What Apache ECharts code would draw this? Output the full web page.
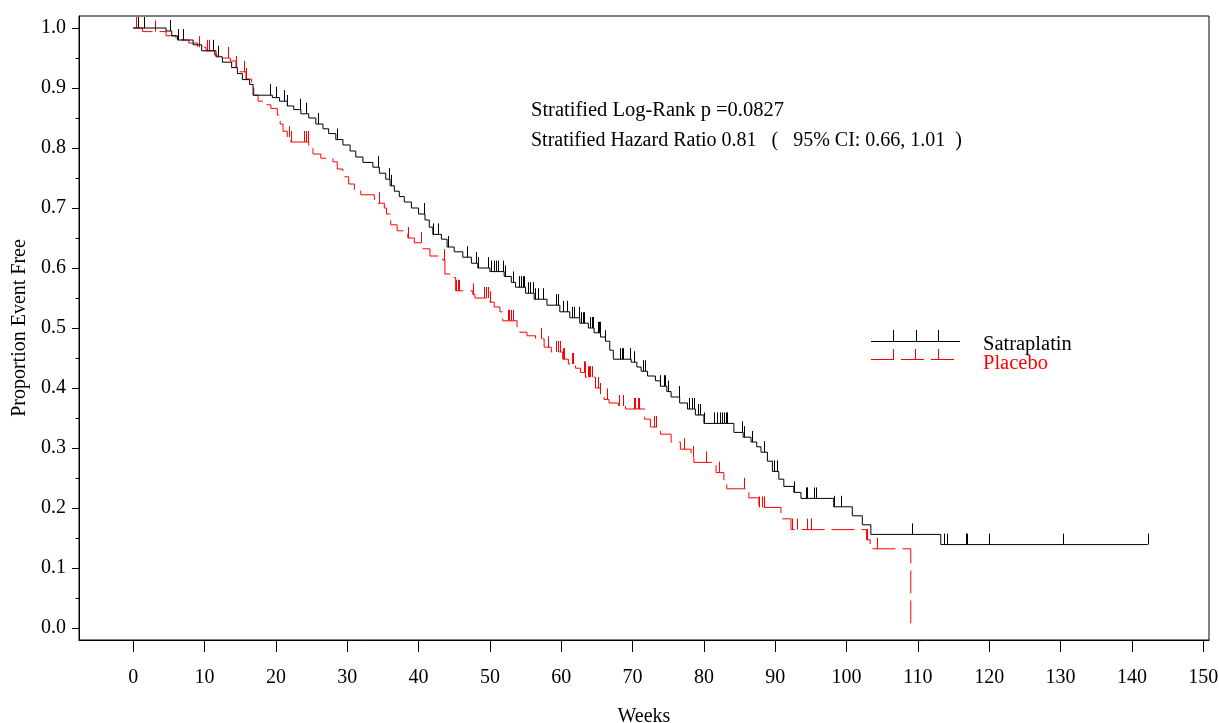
<!DOCTYPE html>
<html><head><meta charset="utf-8">
<script src="https://cdn.jsdelivr.net/npm/echarts@6/dist/echarts.min.js"></script>
<style>html,body{margin:0;padding:0;background:#fff}#c{width:1219px;height:723px}</style>
</head><body><div id="c"></div><script>
// ---- tick values ----
const xTickValues = [0,10,20,30,40,50,60,70,80,90,100,110,120,130,140,150];
const yTickValues = [0.0,0.1,0.2,0.3,0.4,0.5,0.6,0.7,0.8,0.9,1.0];
const yMinorTickValues = [0.05,0.15,0.25,0.35,0.45,0.55,0.65,0.75,0.85,0.95];

// ---- series names / texts ----
const seriesNames = ['Satraplatin', 'Placebo'];
const xTitle = 'Weeks';
const yTitle = 'Proportion Event Free';
const annotations = ['Stratified Log-Rank p =0.0827', 'Stratified Hazard Ratio 0.81   (   95% CI: 0.66, 1.01  )'];

// ---- Satraplatin KM steps (week, proportion after the step) ----
const satTimes = [0,4.6,5.4,6.2,8.4,9.6,11.6,12.5,13.8,14.6,15.3,16.3,16.8,19.5,20.5,21.6,22.5,23.5,24.6,25.6,26.6,27.4,28.4,29.4,30.4,31.2,32.2,33.6,34.5,35.4,36.0,36.6,37.3,38.0,39.0,40.0,40.9,41.5,42.0,43.2,44.0,45.0,46.2,47.4,48.3,50.0,52.0,53.0,53.6,55.0,56.2,58.0,59.8,61.2,62.6,63.8,64.6,65.5,66.2,66.8,67.3,69.8,70.6,71.2,72.1,73.2,73.9,74.8,75.4,76.6,77.7,78.8,80.0,84.2,85.5,86.6,87.4,88.0,88.9,89.6,90.5,91.2,92.6,93.6,98.2,100.8,102.2,103.4,113.2,142.2];
const satSurv  = [1.0,0.995,0.987,0.980,0.972,0.962,0.952,0.943,0.934,0.924,0.914,0.906,0.888,0.884,0.878,0.870,0.864,0.857,0.850,0.840,0.832,0.824,0.814,0.805,0.795,0.785,0.776,0.768,0.758,0.748,0.737,0.728,0.719,0.710,0.700,0.690,0.680,0.668,0.656,0.648,0.635,0.627,0.618,0.608,0.600,0.594,0.586,0.576,0.568,0.558,0.548,0.538,0.527,0.517,0.508,0.500,0.492,0.485,0.478,0.463,0.448,0.443,0.435,0.428,0.420,0.412,0.403,0.394,0.385,0.375,0.365,0.355,0.341,0.326,0.318,0.310,0.302,0.293,0.278,0.261,0.248,0.236,0.226,0.216,0.202,0.187,0.172,0.156,0.139,0.139];

// ---- Placebo KM steps ----
const plaTimes = [0,1.3,4.6,6.0,7.8,9.0,10.2,11.4,12.3,13.6,14.4,14.9,15.8,16.6,16.9,17.5,18.4,19.3,20.2,20.6,21.0,21.6,22.1,24.6,25.2,26.3,28.0,28.6,29.4,30.2,31.0,31.9,33.8,35.2,35.5,36.1,37.0,38.5,39.4,40.6,41.6,43.4,43.7,44.8,45.2,47.6,47.9,50.0,50.6,51.4,51.8,53.8,54.2,55.2,56.4,57.6,58.6,60.2,61.0,62.0,62.7,63.4,64.8,65.5,66.0,66.7,68.0,69.0,71.7,72.5,73.9,75.4,76.7,78.2,78.6,81.7,82.8,83.2,86.3,87.7,90.8,92.2,102.8,103.3,109.0];
const plaSurv  = [1.0,0.994,0.987,0.980,0.975,0.968,0.962,0.955,0.950,0.945,0.935,0.927,0.915,0.900,0.888,0.878,0.872,0.866,0.855,0.840,0.828,0.818,0.810,0.800,0.790,0.783,0.777,0.765,0.752,0.740,0.730,0.722,0.708,0.700,0.690,0.672,0.662,0.650,0.642,0.632,0.620,0.613,0.590,0.584,0.562,0.556,0.550,0.543,0.535,0.527,0.512,0.500,0.493,0.487,0.482,0.468,0.460,0.448,0.440,0.433,0.426,0.418,0.400,0.390,0.381,0.375,0.370,0.365,0.348,0.335,0.323,0.310,0.298,0.285,0.276,0.259,0.247,0.232,0.217,0.201,0.182,0.164,0.147,0.132,0.0];

// ---- censoring times ----
const satCensor = [0.7,1.5,5.2,6.3,7.0,11.2,11.9,19.2,20.0,21.1,21.6,23.4,24.2,25.9,28.6,34.3,35.9,36.1,40.8,42.0,42.7,44.1,46.8,48.0,48.3,49.7,50.1,50.6,50.8,51.1,51.8,52.1,53.2,54.1,54.3,54.6,54.8,55.3,55.6,56.0,56.3,56.7,57.4,59.2,59.5,60.2,60.8,61.5,61.8,62.5,62.7,63.0,63.2,64.0,64.3,64.4,65.1,65.3,65.4,66.2,68.2,68.5,68.6,69.7,70.2,71.4,71.8,73.9,74.4,74.6,74.9,76.5,77.9,78.3,78.6,79.1,79.4,80.0,81.4,81.9,82.2,82.5,82.8,83.1,83.3,85.3,85.6,86.7,88.4,89.8,90.2,92.6,94.3,94.5,95.4,95.7,98.2,99.2,109.1,113.6,114.1,116.7,116.9,120.0,130.4,142.2];
const plaCensor = [0.4,3.1,9.2,10.4,10.6,13.3,14.4,15.5,15.8,21.8,22.1,23.9,24.2,24.5,34.5,38.5,40.3,43.6,45.3,45.5,45.7,47.6,49.2,49.4,49.7,50.0,52.5,52.7,52.9,53.2,57.1,58.1,59.2,59.5,59.8,60.2,60.4,61.5,61.6,63.2,63.3,63.7,63.9,64.1,64.3,65.1,65.5,66.4,68.1,68.6,70.2,70.4,70.7,70.9,73.0,73.3,77.2,78.4,80.3,82.1,85.6,87.7,88.2,88.4,92.3,93.1,94.5,95.0,102.8,104.2];

const FONT = "'Liberation Serif', 'Times New Roman', serif";
const BLACK = '#000000';
const RED = '#ff0000';

function survAt(times, surv, t) {
  let s = surv[0];
  for (let i = 0; i < times.length; i++) { if (times[i] <= t) s = surv[i]; else break; }
  return s;
}
function tickSeries(name, times, surv, cens, color) {
  return {
    name: name, type: 'custom', silent: true, z: 3,
    data: cens.map(t => [t, survAt(times, surv, t)]),
    renderItem: function (params, api) {
      const p = api.coord([api.value(0), api.value(1)]);
      const x = Math.round(p[0]) + 0.5;
      return { type: 'line', shape: { x1: x, y1: p[1], x2: x, y2: p[1] - 11 },
               style: { stroke: color, lineWidth: 1 } };
    }
  };
}

const chart = echarts.init(document.getElementById('c'), null, { renderer: 'canvas' });
chart.setOption({
  animation: false,
  backgroundColor: '#ffffff',
  grid: { left: 79, top: 16, width: 1130, height: 624, show: true, borderColor: BLACK, borderWidth: 1,
          containLabel: false, outerBoundsMode: 'none' },
  xAxis: {
    type: 'value', min: -7.6, max: 150.8,
    axisLine: { show: true, onZero: false, lineStyle: { color: BLACK, width: 1 } },
    axisTick: { show: true, customValues: xTickValues, length: 12, lineStyle: { color: BLACK } },
    axisLabel: { customValues: xTickValues, margin: 28, color: BLACK, fontSize: 20, fontFamily: FONT },
    splitLine: { show: false },
    name: xTitle, nameLocation: 'middle', nameGap: 67,
    nameTextStyle: { color: BLACK, fontSize: 20, fontFamily: FONT }
  },
  yAxis: [{
    type: 'value', min: -0.02, max: 1.02, position: 'left',
    axisLine: { show: true, onZero: false, lineStyle: { color: BLACK, width: 1 } },
    axisTick: { show: true, customValues: yTickValues, length: 7, lineStyle: { color: BLACK } },
    axisLabel: { customValues: yTickValues, margin: 13, color: BLACK, fontSize: 20, fontFamily: FONT,
                 padding: [4, 0, 0, 0], formatter: v => v.toFixed(1) },
    splitLine: { show: false },
    name: yTitle, nameLocation: 'middle', nameGap: 45,
    nameTextStyle: { color: BLACK, fontSize: 20, fontFamily: FONT }
  }, {
    type: 'value', min: -0.02, max: 1.02, position: 'left',
    axisLine: { show: false, onZero: false },
    axisTick: { show: true, customValues: yMinorTickValues, length: 3.5, lineStyle: { color: BLACK } },
    axisLabel: { show: false },
    splitLine: { show: false }
  }],
  series: [
    { name: seriesNames[0], type: 'line', step: 'end', showSymbol: false, symbol: 'none', z: 4,
      data: satTimes.map((t, i) => [t, satSurv[i]]),
      lineStyle: { color: BLACK, width: 1 }, itemStyle: { color: BLACK } },
    { name: seriesNames[1], type: 'line', step: 'end', showSymbol: false, symbol: 'none', z: 3,
      data: plaTimes.map((t, i) => [t, plaSurv[i]]),
      lineStyle: { color: RED, width: 1, type: [23, 7] }, itemStyle: { color: RED } },
    tickSeries(seriesNames[0], satTimes, satSurv, satCensor, BLACK),
    tickSeries(seriesNames[1], plaTimes, plaSurv, plaCensor, RED)
  ],
  graphic: [
    { type: 'text', left: 531, top: 100, style: { text: annotations[0], fill: BLACK, font: '20.5px ' + FONT } },
    { type: 'text', left: 531, top: 131, style: { text: annotations[1], fill: BLACK, font: '20px ' + FONT } },
    // legend
    { type: 'line', shape: { x1: 871, y1: 341.5, x2: 960, y2: 341.5 }, style: { stroke: BLACK, lineWidth: 1 } },
    { type: 'line', shape: { x1: 893.5, y1: 330, x2: 893.5, y2: 341 }, style: { stroke: BLACK, lineWidth: 1 } },
    { type: 'line', shape: { x1: 916.5, y1: 330, x2: 916.5, y2: 341 }, style: { stroke: BLACK, lineWidth: 1 } },
    { type: 'line', shape: { x1: 938.5, y1: 330, x2: 938.5, y2: 341 }, style: { stroke: BLACK, lineWidth: 1 } },
    { type: 'text', left: 983, top: 334, style: { text: seriesNames[0], fill: BLACK, font: '20.5px ' + FONT } },
    { type: 'line', shape: { x1: 871, y1: 359.5, x2: 956, y2: 359.5 }, style: { stroke: RED, lineWidth: 1, lineDash: [23, 7] } },
    { type: 'line', shape: { x1: 893.5, y1: 349, x2: 893.5, y2: 359 }, style: { stroke: RED, lineWidth: 1 } },
    { type: 'line', shape: { x1: 915.5, y1: 349, x2: 915.5, y2: 359 }, style: { stroke: RED, lineWidth: 1 } },
    { type: 'line', shape: { x1: 938.5, y1: 349, x2: 938.5, y2: 359 }, style: { stroke: RED, lineWidth: 1 } },
    { type: 'text', left: 983, top: 353, style: { text: seriesNames[1], fill: RED, font: '20.5px ' + FONT } }
  ]
});
</script></body></html>
